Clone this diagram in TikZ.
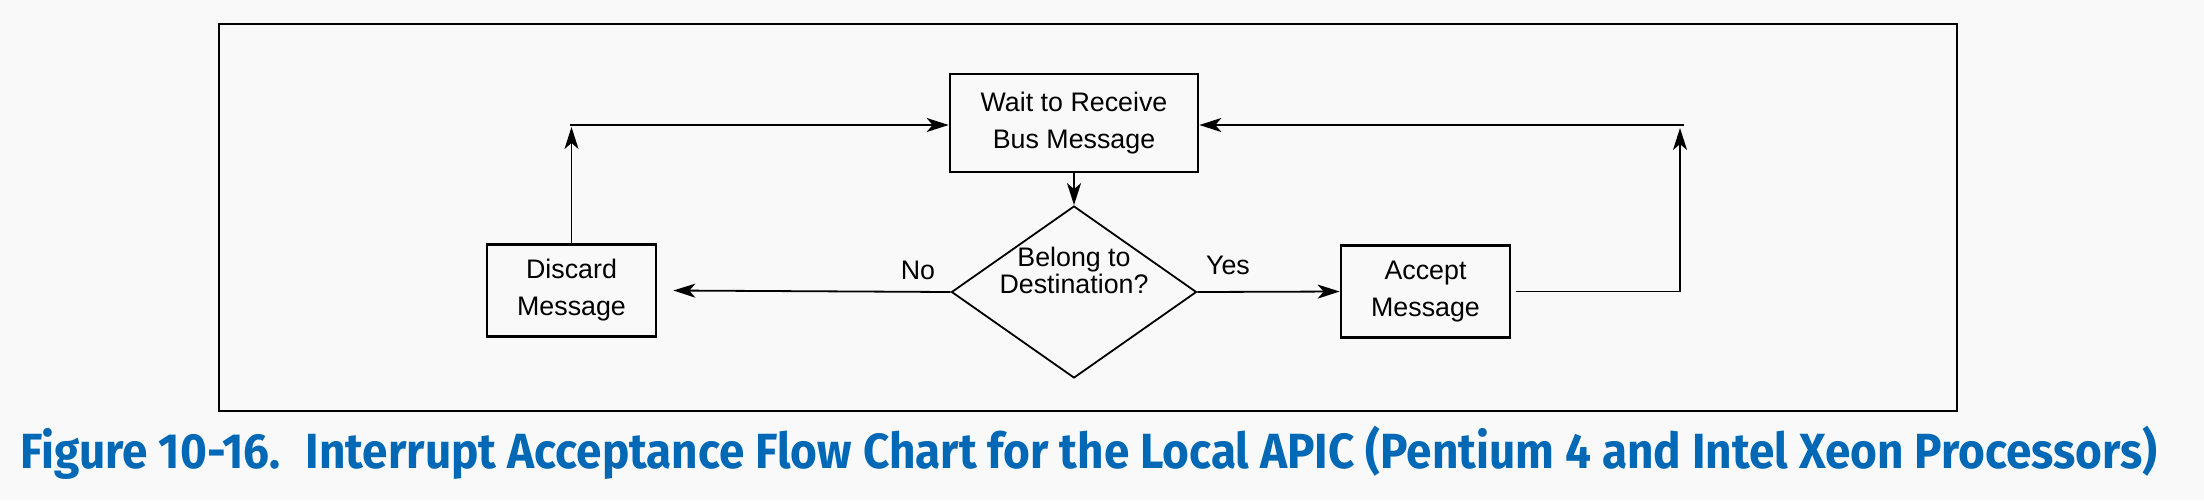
\documentclass[tikz,border=0pt]{standalone}
\usepackage{fontspec}
\setmainfont{Liberation Sans}
\newfontfamily\capfont{Fira Sans}[FakeStretch=0.93]
\usetikzlibrary{arrows.meta,shapes.geometric}
\definecolor{pagegray}{HTML}{F9F9F9}
\definecolor{intelblue}{HTML}{0068B5}
\tikzset{
  flowbox/.style={draw,line width=1.35pt,minimum width=84.5pt,minimum height=46pt,
    inner sep=0pt,align=center},
  decision/.style={diamond,draw,line width=0.9pt,minimum width=122.5pt,minimum height=86pt,
    inner sep=0pt},
  conn/.style={line width=0.9pt}
}
\begin{document}
\begin{tikzpicture}[x=0.5pt,y=-0.5pt,>={Stealth[length=11pt,width=7pt,inset=3pt]},
    font=\fontsize{13.4}{18.5}\selectfont]
  \fill[pagegray] (0,0) rectangle (2204,500);
  \useasboundingbox (0,0) rectangle (2204,500);
  \draw[line width=1.4pt] (219,24) rectangle (1957,411);
  % flow chart
  \node[flowbox,minimum width=124pt,minimum height=49pt] (wait) at (1074,123) {Wait to Receive\\Bus Message};
  \node[decision] (belong) at (1074,292) {};
  \node[align=center,font=\fontsize{13.4}{13.5}\selectfont] (belongtext) at ([yshift=11pt]belong.center) {Belong to\\Destination?};
  \node[flowbox] (discard) at (571.5,290.5) {Discard\\Message};
  \node[flowbox] (accept) at (1425.5,291.5) {Accept\\Message};
  \node (no) at (918,270) {No};
  \node (yes) at (1228,265) {Yes};
  \coordinate (lefttop) at (570,125);
  \coordinate (rightup) at (1680,128);
  \coordinate (righttop) at (1684,125);
  \draw[->,conn] (wait.south) -- (belong.north);
  \draw[->,conn] (belong.west) -- ([xshift=8pt]discard.east);
  \draw[->,conn] (belong.east) -- (accept.west);
  \draw[->,conn] (discard.north) -- ([yshift=-1pt]discard.north |- lefttop);
  \draw[->,conn] (lefttop) -- (lefttop -| wait.west);
  \draw[->,conn] ([xshift=2.5pt]accept.east) -| (rightup);
  \draw[->,conn] (righttop) -- (righttop -| wait.east);
  % caption
  \node[anchor=base west,text=intelblue,inner sep=0pt,font=\capfont\bfseries\fontsize{24.7}{30}\selectfont] (caption) at (20,468)
    {Figure 10-16.~ Interrupt Acceptance Flow Chart for the Local APIC (Pentium 4 and Intel Xeon Processors)};
\end{tikzpicture}
\end{document}
